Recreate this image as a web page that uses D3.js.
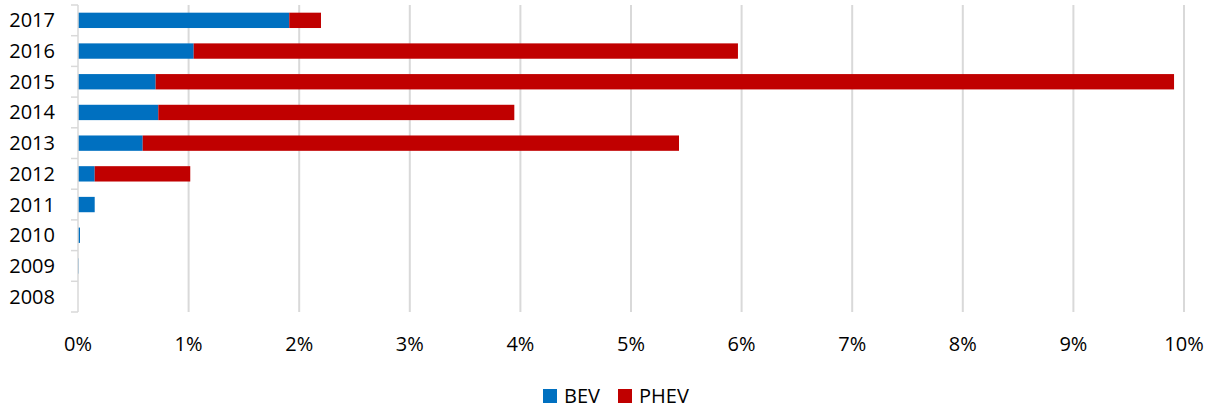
<!DOCTYPE html>
<html>
<head>
<meta charset="utf-8">
<script src="https://cdn.jsdelivr.net/npm/d3@7"></script>
<style>
  html, body { margin: 0; padding: 0; background: #fff; }
  svg { display: block; font-family: "Open Sans", sans-serif; }
</style>
</head>
<body>
<svg id="chart" width="1214" height="408"></svg>
<script>
const years = ["2008","2009","2010","2011","2012","2013","2014","2015","2016","2017"];
const bev   = [0, 0.006, 0.018, 0.151, 0.151, 0.585, 0.726, 0.702, 1.046, 1.91];
const phev  = [0, 0, 0, 0, 0.864, 4.849, 3.219, 9.208, 4.921, 0.287];
const tickValues = [0,1,2,3,4,5,6,7,8,9,10];
const seriesNames = ["BEV", "PHEV"];
const seriesColors = ["#0070C0", "#C00000"];

const svg = d3.select("#chart");
const x = d3.scaleLinear().domain([0, 10]).range([78, 1184]);
const y = d3.scaleBand().domain(years.slice().reverse()).range([5, 312])
  .paddingInner(0.5).paddingOuter(0.25);

// gridlines
svg.append("g").selectAll("line").data(tickValues.slice(1)).join("line")
  .attr("x1", d => x(d)).attr("x2", d => x(d))
  .attr("y1", 5).attr("y2", 312)
  .attr("stroke", "#d9d9d9").attr("stroke-width", 2);

// stacked bars
const rows = years.map((yr, i) => ({ yr, bev: bev[i], phev: phev[i] }));
const stack = d3.stack().keys(["bev", "phev"])(rows);
stack.forEach((layer, li) => {
  svg.append("g").attr("fill", seriesColors[li])
    .selectAll("rect").data(layer).join("rect")
    .attr("x", d => x(d[0]))
    .attr("width", d => Math.max(0, x(d[1]) - x(d[0])))
    .attr("y", d => y(d.data.yr))
    .attr("height", y.bandwidth());
});

// left axis line + ticks at band boundaries
svg.append("line").attr("x1", 78).attr("x2", 78).attr("y1", 5).attr("y2", 312)
  .attr("stroke", "#d9d9d9").attr("stroke-width", 1.5);
const bounds = d3.range(years.length + 1).map(i => 5 + i * y.step());
svg.append("g").selectAll("line").data(bounds).join("line")
  .attr("x1", 71).attr("x2", 78).attr("y1", d => d).attr("y2", d => d)
  .attr("stroke", "#d9d9d9").attr("stroke-width", 1.5);

// year labels
svg.append("g").selectAll("text").data(years).join("text")
  .attr("x", 55).attr("y", d => y(d) + y.bandwidth() / 2 + 7)
  .attr("text-anchor", "end").attr("font-size", 20).attr("fill", "#000")
  .text(d => d);

// x tick labels
svg.append("g").selectAll("text").data(tickValues).join("text")
  .attr("x", d => x(d)).attr("y", 351)
  .attr("text-anchor", "middle").attr("font-size", 20).attr("fill", "#000")
  .text(d => d + "%");

// legend
const legendX = [543, 618];
const lg = svg.append("g").selectAll("g").data(seriesNames).join("g");
lg.append("rect").attr("x", (d, i) => legendX[i]).attr("y", 389)
  .attr("width", 14).attr("height", 14).attr("fill", (d, i) => seriesColors[i]);
lg.append("text").attr("x", (d, i) => legendX[i] + 21).attr("y", 403)
  .attr("font-size", 20).attr("fill", "#000").text(d => d);
</script>
</body>
</html>
